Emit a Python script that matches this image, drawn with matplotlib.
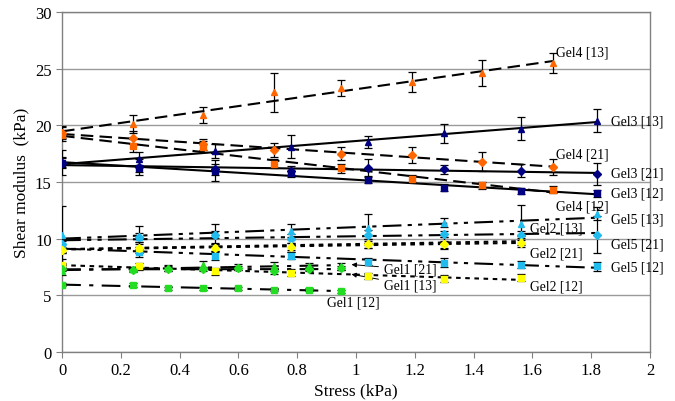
"""
Shear modulus vs applied stress for five gels (three batches each),
with linear trend lines and per-point error bars.
"""

import numpy as np
import matplotlib
matplotlib.use("Agg")
import matplotlib.pyplot as plt

# --- stress levels (kPa) -------------------------------------------------
x_gel1 = [0, 0.24, 0.36, 0.48, 0.60, 0.72, 0.84, 0.95]
x_gel2 = [0, 0.26, 0.52, 0.78, 1.04, 1.30, 1.56]
x_gel3 = [0, 0.26, 0.52, 0.78, 1.04, 1.30, 1.56, 1.82]
x_gel4 = [0, 0.24, 0.48, 0.72, 0.95, 1.19, 1.43, 1.67]
x_gel5 = [0, 0.26, 0.52, 0.78, 1.04, 1.30, 1.56, 1.82]

# --- shear modulus (kPa) -------------------------------------------------
gel1_12 = [5.95, 5.9, 5.6, 5.6, 5.6, 5.5, 5.5, 5.35]
gel1_13 = [7.1, 7.3, 7.4, 7.7, 7.5, 7.6, 7.55, 7.55]
gel1_21 = [7.3, 7.25, 7.35, 7.3, 7.4, 7.1, 7.3, 7.4]
gel1_12_err = [0.15, 0.15, 0.15, 0.15, 0.15, 0.15, 0.15, 0.15]
gel1_13_err = [0.3, 0.2, 0.3, 0.3, 0.3, 0.3, 0.3, 0.3]
gel1_21_err = [0.2, 0.2, 0.2, 0.2, 0.2, 0.2, 0.2, 0.2]

gel2_12 = [7.7, 7.55, 7.1, 7.0, 6.7, 6.45, 6.55]
gel2_13 = [9.1, 9.2, 9.25, 9.4, 9.6, 9.6, 9.8]
gel2_21 = [9.0, 9.2, 9.2, 9.3, 9.5, 9.5, 9.6]
gel2_12_err = [0.5, 0.3, 0.3, 0.3, 0.3, 0.3, 0.3]
gel2_13_err = [0.4, 0.5, 0.4, 0.6, 0.4, 0.5, 0.4]
gel2_21_err = [0.3, 0.3, 0.3, 0.3, 0.3, 0.3, 0.3]

gel3_12 = [16.7, 16.2, 16.0, 15.8, 15.2, 14.5, 14.2, 14.0]
gel3_13 = [16.7, 17.0, 17.7, 18.1, 18.5, 19.3, 19.7, 20.4]
gel3_21 = [16.7, 16.3, 16.1, 16.0, 16.2, 16.1, 16.0, 15.7]
gel3_12_err = [1.1, 0.3, 0.9, 0.4, 0.3, 0.3, 0.3, 0.3]
gel3_13_err = [0.4, 0.6, 0.6, 1.0, 0.55, 0.85, 1.0, 1.0]
gel3_21_err = [0.5, 0.7, 0.5, 0.4, 0.8, 0.4, 0.6, 1.0]

gel4_12 = [19.1, 18.2, 18.1, 16.6, 16.2, 15.3, 14.7, 14.3]
gel4_13 = [19.4, 20.1, 20.9, 22.9, 23.3, 23.8, 24.6, 25.5]
gel4_21 = [19.3, 18.9, 18.3, 17.8, 17.5, 17.4, 16.8, 16.3]
gel4_12_err = [0.5, 0.6, 0.5, 0.4, 0.4, 0.3, 0.3, 0.3]
gel4_13_err = [0.5, 0.8, 0.7, 1.7, 0.7, 0.9, 1.15, 0.9]
gel4_21_err = [0.5, 0.6, 0.5, 0.6, 0.6, 0.7, 0.8, 0.7]

gel5_12 = [9.3, 8.8, 8.5, 8.5, 7.95, 7.85, 7.7, 7.55]
gel5_13 = [10.35, 10.1, 10.4, 10.7, 10.9, 11.4, 11.3, 12.2]
gel5_21 = [9.5, 10.1, 10.35, 10.0, 10.35, 10.4, 10.35, 10.35]
gel5_12_err = [0.5, 0.4, 0.4, 0.3, 0.3, 0.4, 0.3, 0.4]
gel5_13_err = [2.5, 1.0, 0.9, 0.6, 1.3, 0.4, 1.7, 0.6]
gel5_21_err = [0.5, 0.4, 0.3, 0.4, 0.4, 0.3, 0.3, 1.6]

# colours / line styles per gel, markers per batch
GEL_COLORS = {
    "Gel1": "#22DD22",
    "Gel2": "#FFFF00",
    "Gel3": "#000080",
    "Gel4": "#FF6600",
    "Gel5": "#22BBEE",
}
GEL_STYLES = {
    "Gel1": (0, (9, 4, 2, 4)),
    "Gel2": (0, (2.2, 2.2)),
    "Gel3": "-",
    "Gel4": (0, (6, 3)),
    "Gel5": (0, (9, 3, 2, 3, 2, 3)),
}
BATCH_MARKERS = {"12": ("s", 4.0), "13": ("^", 4.8), "21": ("D", 3.6)}


def plot_series(ax, gel, batch, x, y, err):
    """Trend line, error bars and markers for one gel batch."""
    x = np.asarray(x, dtype=float)
    y = np.asarray(y, dtype=float)
    slope, intercept = np.polyfit(x, y, 1)
    xs = np.array([0, x.max()])
    ax.plot(xs, intercept + slope * xs, color="black", lw=1.5,
            linestyle=GEL_STYLES[gel], zorder=2)
    marker, ms = BATCH_MARKERS[batch]
    ax.errorbar(x, y, yerr=err, fmt="none", ecolor="black", elinewidth=0.9,
                capsize=3.2, capthick=0.9, zorder=3)
    ax.plot(x, y, linestyle="none", marker=marker, markersize=ms,
            markerfacecolor=GEL_COLORS[gel], markeredgecolor=GEL_COLORS[gel],
            zorder=4)


def main():
    plt.rcParams["font.family"] = ["Liberation Serif", "DejaVu Serif"]

    fig = plt.figure(figsize=(6.75, 4.02), dpi=100)
    ax = fig.add_axes([0.092, 0.122, 0.871, 0.846])

    series = [
        ("Gel4", "13", x_gel4, gel4_13, gel4_13_err),
        ("Gel4", "21", x_gel4, gel4_21, gel4_21_err),
        ("Gel4", "12", x_gel4, gel4_12, gel4_12_err),
        ("Gel3", "13", x_gel3, gel3_13, gel3_13_err),
        ("Gel3", "21", x_gel3, gel3_21, gel3_21_err),
        ("Gel3", "12", x_gel3, gel3_12, gel3_12_err),
        ("Gel5", "13", x_gel5, gel5_13, gel5_13_err),
        ("Gel5", "21", x_gel5, gel5_21, gel5_21_err),
        ("Gel5", "12", x_gel5, gel5_12, gel5_12_err),
        ("Gel2", "13", x_gel2, gel2_13, gel2_13_err),
        ("Gel2", "21", x_gel2, gel2_21, gel2_21_err),
        ("Gel2", "12", x_gel2, gel2_12, gel2_12_err),
        ("Gel1", "21", x_gel1, gel1_21, gel1_21_err),
        ("Gel1", "13", x_gel1, gel1_13, gel1_13_err),
        ("Gel1", "12", x_gel1, gel1_12, gel1_12_err),
    ]
    for gel, batch, x, y, err in series:
        plot_series(ax, gel, batch, x, y, err)

    # series labels, placed next to the line ends
    labels = [
        ("Gel4 [13]", 1.68, 26.5),
        ("Gel3 [13]", 1.866, 20.4),
        ("Gel4 [21]", 1.68, 17.5),
        ("Gel3 [21]", 1.866, 15.75),
        ("Gel3 [12]", 1.866, 14.0),
        ("Gel4 [12]", 1.68, 12.9),
        ("Gel5 [13]", 1.866, 11.7),
        ("Gel2 [13]", 1.59, 10.9),
        ("Gel5 [21]", 1.866, 9.5),
        ("Gel2 [21]", 1.59, 8.75),
        ("Gel5 [12]", 1.866, 7.5),
        ("Gel2 [12]", 1.59, 5.85),
        ("Gel1 [12]", 0.90, 4.45),
    ]
    for text, lx, ly in labels:
        ax.text(lx, ly, text, fontsize=9.8, va="center", ha="left", zorder=5)

    # Gel1 [21] / [13] labels with leader arrows
    arrow = dict(arrowstyle="-|>", color="black", lw=0.7, mutation_scale=7)
    ax.annotate("Gel1 [21]", xy=(0.975, 7.73), xytext=(1.095, 7.3),
                fontsize=9.8, va="center", ha="left", arrowprops=arrow)
    ax.annotate("Gel1 [13]", xy=(0.975, 6.9), xytext=(1.095, 5.9),
                fontsize=9.8, va="center", ha="left", arrowprops=arrow)

    ax.set_xlim(0, 2)
    ax.set_ylim(0, 30)
    ax.set_xticks(np.arange(0, 2.01, 0.2))
    ax.set_xticklabels(["0", "0.2", "0.4", "0.6", "0.8", "1", "1.2", "1.4",
                        "1.6", "1.8", "2"])
    ax.set_yticks(np.arange(0, 31, 5))
    ax.tick_params(axis="both", labelsize=12, color="#808080",
                   direction="out", length=4)
    ax.yaxis.grid(True, color="#9a9a9a", lw=1.0)
    ax.set_axisbelow(True)
    for side in ["left", "bottom", "right", "top"]:
        ax.spines[side].set_color("#808080")
        ax.spines[side].set_linewidth(1.0)

    ax.set_xlabel("Stress (kPa)", fontsize=12.5, labelpad=3)
    ax.set_ylabel("Shear modulus  (kPa)", fontsize=12.5, labelpad=4)

    fig.savefig("out.png", dpi=100)
    plt.close(fig)


if __name__ == "__main__":
    main()
